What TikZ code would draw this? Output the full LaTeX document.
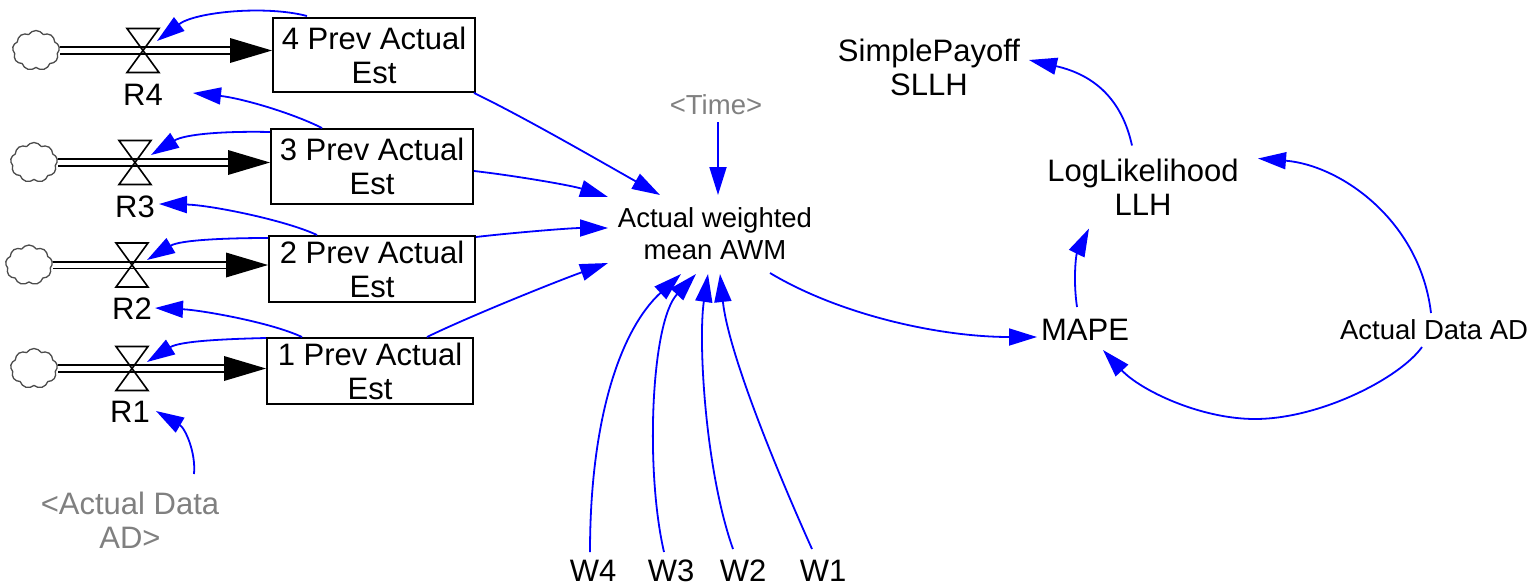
\documentclass[tikz,border=0pt]{standalone}
\usepackage{fontspec}
\setmainfont{Liberation Sans}
\usetikzlibrary{arrows.meta,calc,shapes.symbols}
\definecolor{linkblue}{RGB}{0,0,255}
\definecolor{ghost}{RGB}{128,128,128}
\tikzset{
  lbl/.style={inner sep=0pt, align=center, font=\fontsize{31}{34}\selectfont},
  lblsm/.style={inner sep=0pt, align=center, font=\fontsize{27.5}{32}\selectfont},
  ghosted/.style={text=ghost},
  stock/.style={draw, line width=2pt, inner sep=0pt, align=center, font=\fontsize{31}{34}\selectfont},
  cloudnode/.style={cloud, cloud puffs=9, cloud puff arc=115, cloud ignores aspect, draw=black!70, line width=1.3pt, minimum width=47pt, minimum height=40pt, inner sep=0pt},
  pipe/.style={draw, line width=1.8pt, double=white, double distance=5pt, shorten >=41pt},
  link/.style={draw=linkblue, line width=1.8pt, -{Triangle[length=28pt,width=17pt]}},
  valve/.pic={\draw[line width=1.6pt, line join=miter] (-16,-22) -- (16,-22) -- (0,0) -- cycle (-16,22) -- (16,22) -- (0,0) -- cycle;}
}
\begin{document}
\begin{tikzpicture}[x=1pt,y=-1pt]
\useasboundingbox (0,0) rectangle (1532,587);

% stocks
\node[stock, minimum width=202pt, minimum height=74pt] (s4) at (374,55) {4 Prev Actual\\Est};
\node[stock, minimum width=202pt, minimum height=75pt] (s3) at (372,166.5) {3 Prev Actual\\Est};
\node[stock, minimum width=206pt, minimum height=66pt] (s2) at (372,269) {2 Prev Actual\\Est};
\node[stock, minimum width=206pt, minimum height=66pt] (s1) at (370,371) {1 Prev Actual\\Est};

% sources
\node[cloudnode] (c4) at (36,50.5) {};
\node[cloudnode] (c3) at (34,162.5) {};
\node[cloudnode] (c2) at (29,265) {};
\node[cloudnode] (c1) at (34,368.5) {};

% valves
\coordinate (v4) at (143,50.5);
\coordinate (v3) at (135,162.5);
\coordinate (v2) at (132,265);
\coordinate (v1) at (132,368.5);

% flows
\foreach \c/\s in {c4/s4,c3/s3,c2/s2,c1/s1}{
  \draw[pipe] (\c.east) -- (\c.east -| \s.west);
  \fill (\c.east -| \s.west) -- ++(-42,-12.5) -- ++(0,25) -- cycle;
}
\foreach \v in {v4,v3,v2,v1}{ \pic at (\v) {valve}; }

% rate labels
\node[lbl] (r4) at (143,95) {R4};
\node[lbl] (r3) at (135,207) {R3};
\node[lbl] (r2) at (132,309) {R2};
\node[lbl] (r1) at (130,412) {R1};

% auxiliaries
\node[lbl, ghosted] (adsh) at (130,520) {<Actual Data\\AD>};
\node[lblsm, ghosted] (time) at (716,105) {<Time>};
\node[lblsm] (awm) at (715,234) {Actual weighted\\mean AWM};
\node[lbl] (w4) at (593,571) {W4};
\node[lbl] (w3) at (671,571) {W3};
\node[lbl] (w2) at (743,571) {W2};
\node[lbl] (w1) at (823,571) {W1};
\node[lbl] (mape) at (1085,330) {MAPE};
\node[lbl] (llh) at (1143,187.5) {LogLikelihood\\LLH};
\node[lbl] (sllh) at (929,67) {SimplePayoff\\SLLH};
\node[lblsm] (ad) at (1434,330) {Actual Data AD};

% stocks feeding back to the rates
\draw[link] ($(s4.north)+(-67,-1)$) .. controls (265,5) and (195,12) .. ($(v4)+(14,-9.5)$);
\draw[link] ($(s3.north)+(-50,0)$) .. controls (290,112) and (240,98) .. ($(r4)+(50,-2)$);
\draw[link] ($(s3.north west)+(0,4)$) .. controls (225,131) and (185,134) .. ($(v3)+(16,-7.5)$);
\draw[link] ($(s2.north)+(-55,0)$) .. controls (285,220) and (210,205) .. ($(r3)+(24,-3)$);
\draw[link] ($(s2.north west)+(0,3)$) .. controls (225,238) and (180,240) .. ($(v2)+(15,-5)$);
\draw[link] ($(s1.north)+(-68,0)$) .. controls (270,322) and (200,310) .. ($(r2)+(23,-1)$);
\draw[link] ($(s1.north west)+(0,1)$) .. controls (225,339) and (180,341) .. ($(v1)+(15,-6.5)$);
\draw[link] ($(adsh)+(64,-46)$) .. controls (196,452) and (185,428) .. ($(r1)+(26,-1)$);

% inputs of the weighted mean
\draw[link] ($(s4.south east)+(-2,0)$) .. controls (523,116.5) and (605,164) .. ($(awm)+(-55,-39)$);
\draw[link] ($(s3.east)+(0,4.5)$) .. controls (510,175) and (570,185) .. ($(awm)+(-107,-37)$);
\draw[link] ($(s2.north east)+(0,2)$) .. controls (510,233) and (570,228) .. ($(awm)+(-107,-6)$);
\draw[link] ($(s1.north)+(57,0)$) .. controls (470,316) and (560,280) .. ($(awm)+(-107,29)$);
\draw[link] ($(time)+(2,17)$) -- ($(awm)+(3,-39)$);
\draw[link] ($(w4)+(-3,-19)$) .. controls (590,420) and (620,330) .. ($(awm)+(-34,40)$);
\draw[link] ($(w3)+(-7,-19)$) .. controls (645,470) and (651,322) .. ($(awm)+(-19,40)$);
\draw[link] ($(w2)+(-10,-22)$) .. controls (705,470) and (698,340) .. ($(awm)+(-7,40)$);
\draw[link] ($(w1)+(-11,-22)$) .. controls (772,460) and (728,350) .. ($(awm)+(5,40)$);

% error and likelihood chain
\draw[link] ($(awm)+(55,39)$) .. controls (840,315) and (940,337) .. ($(mape)+(-48,7)$);
\draw[link] ($(mape)+(-8,-23)$) .. controls (1073,280) and (1076,255) .. ($(llh)+(-54,41)$);
\draw[link] ($(ad)+(-3,-17)$) .. controls (1420,220) and (1340,165) .. ($(llh)+(115,-29)$);
\draw[link] ($(ad)+(-12,17)$) .. controls (1400,378) and (1320,419) .. (1255,419)
  .. controls (1200,419) and (1140,390) .. ($(mape)+(18,20)$);
\draw[link] ($(llh)+(-11,-42)$) .. controls (1122,100) and (1095,75) .. ($(sllh)+(100,-7)$);
\end{tikzpicture}
\end{document}
